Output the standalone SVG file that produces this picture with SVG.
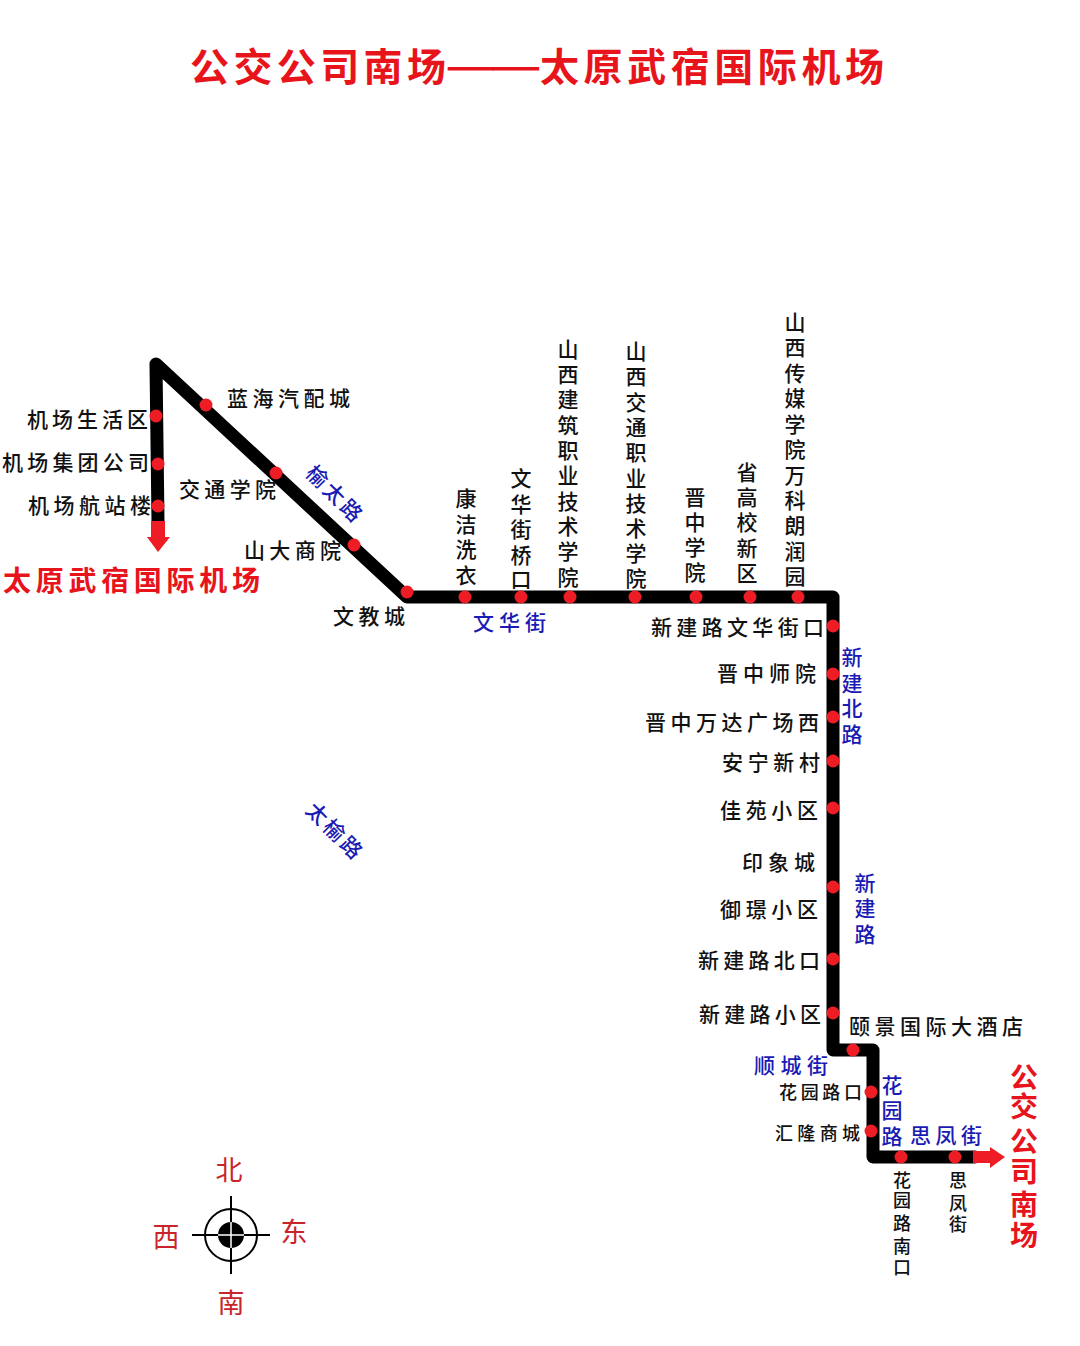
<svg xmlns="http://www.w3.org/2000/svg" width="1080" height="1346" viewBox="0 0 1080 1346">
<style>
text{font-family:"Noto Sans CJK SC","Noto Sans CJK JP",sans-serif}
.s{font-size:21px;fill:#111;text-anchor:start;font-weight:500}
.v{font-size:21px;fill:#111;text-anchor:middle;font-weight:500}
.sm{font-size:18px;fill:#111;font-weight:500}
.b{font-size:21px;fill:#1a1ab4;font-weight:500}
.bv{font-size:21px;fill:#1a1ab4;text-anchor:middle;font-weight:500}
.r{fill:#e8141c;font-weight:700}
.c{font-size:27px;fill:#c8242c;text-anchor:middle}
.d{fill:#ee1c24}
.route{fill:none;stroke:#000;stroke-width:13;stroke-linejoin:round;stroke-linecap:round}
.t{stroke:#000;stroke-width:2;fill:none}
</style>
<rect width="1080" height="1346" fill="#fff"/>
<g id="title" class="r" font-size="39">
<text x="190" y="81" textLength="256">公交公司南场</text>
<text x="445 490" y="85" font-size="58" font-weight="400">——</text>
<text x="540" y="81" textLength="344">太原武宿国际机场</text>
</g>

<g id="connectors">
<path class="route" d="M158 522L156 364L407 597H833V1050H873V1157H975"/>
<path class="d" d="M151 521H165V537H170L158 552L147 537H151Z"/>
<path class="d" d="M973 1151H990V1147L1005 1157L990 1168V1163H973Z"/>
</g>

<g id="n-jcshq"><circle class="d" cx="156" cy="416" r="6.5"/><text class="s" x="27" y="427" textLength="121">机场生活区</text></g>
<g id="n-jcjt"><circle class="d" cx="158" cy="464" r="6.5"/><text class="s" x="2" y="470" textLength="147">机场集团公司</text></g>
<g id="n-jchzl"><circle class="d" cx="158" cy="506" r="6.5"/><text class="s" x="28" y="513" textLength="123">机场航站楼</text></g>
<g id="n-lhqp"><circle class="d" cx="206" cy="405" r="6.5"/><text class="s" x="227" y="406" textLength="123">蓝海汽配城</text></g>
<g id="n-jtxy"><circle class="d" cx="276" cy="473" r="6.5"/><text class="s" x="179" y="497" textLength="97">交通学院</text></g>
<g id="n-sdsy"><circle class="d" cx="354" cy="545" r="6.5"/><text class="s" x="244" y="558" textLength="97">山大商院</text></g>
<g id="n-wjc"><circle class="d" cx="407" cy="592" r="6.5"/><text class="s" x="333" y="624" textLength="72">文教城</text></g>

<g id="n-kjxy"><circle class="d" cx="465" cy="597" r="6.5"/><text class="v" x="466 466 466 466" y="506 532 557 583">康洁洗衣</text></g>
<g id="n-whjq"><circle class="d" cx="521" cy="597" r="6.5"/><text class="v" x="521 521 521 521 521" y="486 512 537 563 587">文华街桥口</text></g>
<g id="n-sxjz"><circle class="d" cx="570" cy="597" r="6.5"/><text class="v" x="568 568 568 568 568 568 568 568 568 568" y="357 382 407 433 458 483 509 534 559 585">山西建筑职业技术学院</text></g>
<g id="n-sxjt"><circle class="d" cx="635" cy="597" r="6.5"/><text class="v" x="636 636 636 636 636 636 636 636 636 636" y="359 384 410 435 460 486 511 536 561 586">山西交通职业技术学院</text></g>
<g id="n-jzxy"><circle class="d" cx="696" cy="597" r="6.5"/><text class="v" x="695 695 695 695" y="505 530 555 580">晋中学院</text></g>
<g id="n-sgx"><circle class="d" cx="750" cy="597" r="6.5"/><text class="v" x="747 747 747 747 747" y="480 505 530 556 581">省高校新区</text></g>
<g id="n-sxcm"><circle class="d" cx="798" cy="597" r="6.5"/><text class="v" x="795 795 795 795 795 795 795 795 795 795 795" y="330 355 381 406 432 457 483 508 533 559 584">山西传媒学院万科朗润园</text></g>

<g id="n-xjwh"><circle class="d" cx="833" cy="626" r="6.5"/><text class="s" x="651" y="635" textLength="173">新建路文华街口</text></g>
<g id="n-jzsy"><circle class="d" cx="833" cy="674" r="6.5"/><text class="s" x="717" y="681" textLength="99">晋中师院</text></g>
<g id="n-jzwd"><circle class="d" cx="833" cy="717" r="6.5"/><text class="s" x="645" y="730" textLength="174">晋中万达广场西</text></g>
<g id="n-anxc"><circle class="d" cx="833" cy="761" r="6.5"/><text class="s" x="722" y="770" textLength="98">安宁新村</text></g>
<g id="n-jyxq"><circle class="d" cx="833" cy="808" r="6.5"/><text class="s" x="720" y="818" textLength="98">佳苑小区</text></g>
<g id="n-yxc"><circle class="d" cx="833" cy="887" r="6.5"/><text class="s" x="742" y="870" textLength="73">印象城</text></g>
<g id="n-yjxq"><text class="s" x="720" y="917" textLength="98">御璟小区</text></g>
<g id="n-xjbk"><circle class="d" cx="833" cy="959" r="6.5"/><text class="s" x="698" y="968" textLength="122">新建路北口</text></g>
<g id="n-xjxq"><circle class="d" cx="833" cy="1013" r="6.5"/><text class="s" x="699" y="1022" textLength="122">新建路小区</text></g>
<g id="n-yjgj"><circle class="d" cx="853" cy="1050" r="6.5"/><text class="s" x="849" y="1034" textLength="174">颐景国际大酒店</text></g>
<g id="n-hylk"><circle class="d" cx="871" cy="1092" r="6.5"/><text class="sm" x="779" y="1099" textLength="83">花园路口</text></g>
<g id="n-hlsc"><circle class="d" cx="871" cy="1131" r="6.5"/><text class="sm" x="775" y="1140" textLength="85">汇隆商城</text></g>
<g id="n-hynk"><circle class="d" cx="901" cy="1157" r="6.5"/><text class="sm" text-anchor="middle" x="902 902 902 902 902" y="1187 1207 1230 1253 1274">花园路南口</text></g>
<g id="n-sfj"><circle class="d" cx="955" cy="1157" r="6.5"/><text class="sm" text-anchor="middle" x="958 958 958" y="1187 1210 1231">思凤街</text></g>

<g id="road-labels">
<text class="bv" transform="translate(335 495) rotate(45)" y="7" letter-spacing="3">榆太路</text>
<text class="bv" transform="translate(335 832) rotate(45)" y="7" letter-spacing="3">太榆路</text>
<text class="b" x="473" y="630" textLength="73">文华街</text>
<text class="bv" x="852 852 852 852" y="665 691 716 742">新建北路</text>
<text class="bv" x="865 865 865" y="891 916 942">新建路</text>
<text class="b" x="754" y="1073" textLength="74">顺城街</text>
<text class="bv" x="892 892 892" y="1093 1118 1144">花园路</text>
<text class="b" x="910" y="1143" textLength="72">思凤街</text>
</g>

<g id="dest-airport"><text class="r" x="3" y="591" font-size="28" textLength="257">太原武宿国际机场</text></g>
<g id="dest-depot"><text class="r" font-size="28" text-anchor="middle" x="1024 1024 1024 1024 1024 1024" y="1088 1117 1152 1182 1215 1246">公交公司南场</text></g>

<g id="compass">
<path class="t" d="M192 1235H270M231 1196V1274"/>
<circle class="t" cx="231" cy="1235" r="26"/>
<circle cx="231" cy="1235" r="13" fill="#000"/>
<path d="M218 1235H244M231 1222V1248" stroke="#fff" stroke-width="1.5"/>
<text class="c" x="229" y="1180">北</text>
<text class="c" x="166" y="1247">西</text>
<text class="c" x="294" y="1242">东</text>
<text class="c" x="231" y="1313">南</text>
</g>
</svg>
